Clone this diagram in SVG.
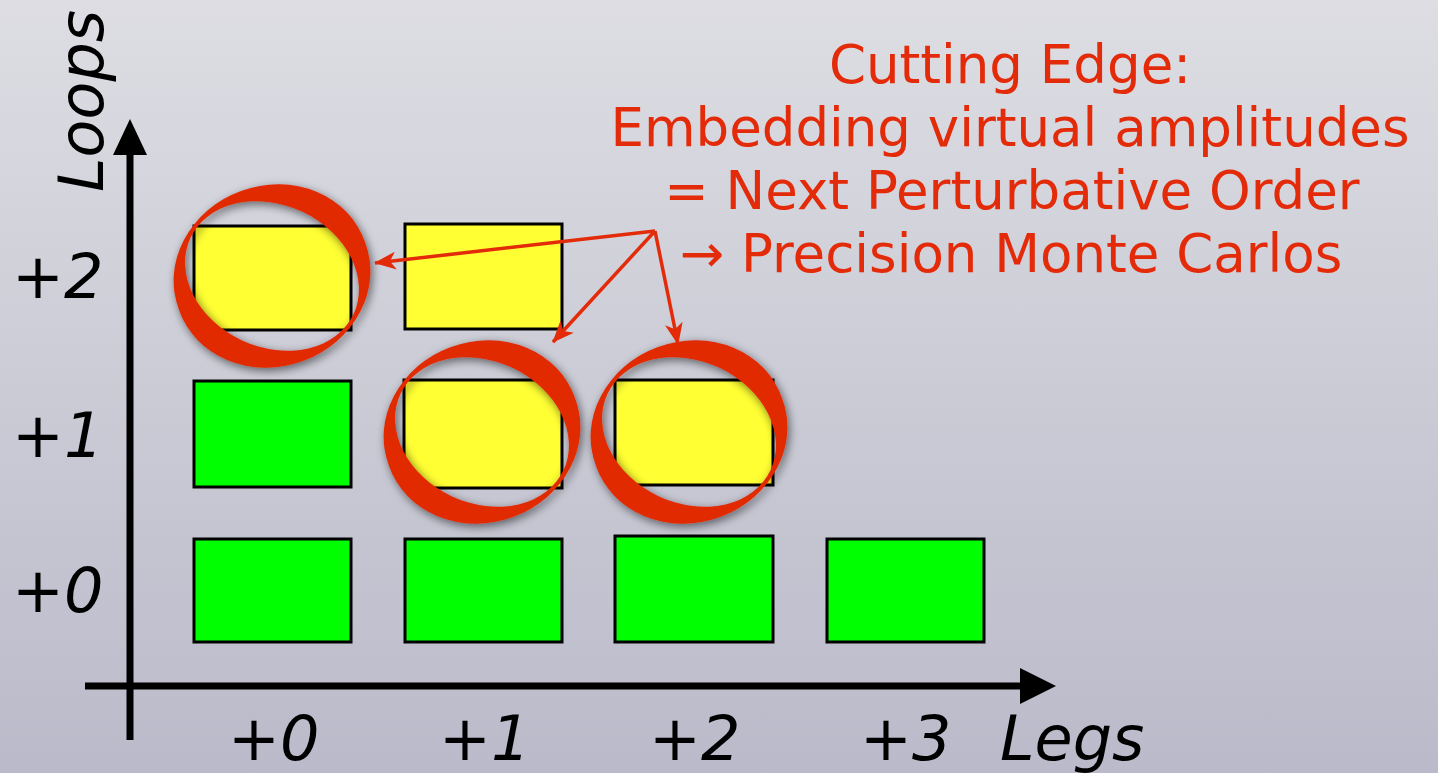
<svg xmlns="http://www.w3.org/2000/svg" xmlns:xlink="http://www.w3.org/1999/xlink" width="1438" height="773" viewBox="0 0 1438 773">
<defs>
<linearGradient id="bg" x1="0" y1="0" x2="0" y2="1">
<stop offset="0" stop-color="#dddde3"/>
<stop offset="1" stop-color="#babaca"/>
</linearGradient>
<filter id="sh" x="-30%" y="-30%" width="160%" height="160%">
<feGaussianBlur in="SourceAlpha" stdDeviation="5"/>
<feOffset dx="2" dy="3"/>
<feComponentTransfer><feFuncA type="linear" slope="0.55"/></feComponentTransfer>
<feMerge><feMergeNode/><feMergeNode in="SourceGraphic"/></feMerge>
</filter>
<path id="ring" fill-rule="evenodd" d="M 93 -33.9 A 99 89 -20 1 0 -93 33.9 A 99 89 -20 1 0 93 -33.9 Z M 81.6 38 A 90 71 25 1 0 -81.6 -38 A 90 71 25 1 0 81.6 38 Z"/>
<marker id="ah" viewBox="0 0 22 18" refX="21" refY="9" markerWidth="22" markerHeight="18" markerUnits="userSpaceOnUse" orient="auto">
<path d="M0 0 L22 9 L0 18 L6 9 Z" fill="#e32b0a"/>
</marker>
<style>
.lbl{font-family:"DejaVu Sans","Verdana",sans-serif;font-style:italic;font-size:62px;fill:#000}
.red{font-family:"DejaVu Sans","Verdana",sans-serif;font-size:53px;fill:#e32b0a;text-anchor:middle}
.g{fill:#00ff00;stroke:#000;stroke-width:3}
.y{fill:#ffff33;stroke:#000;stroke-width:3}
.ring{fill:#e22a00;filter:url(#sh)}
.axis{stroke:#000;stroke-width:7;fill:none}
.conn{stroke:#e32b0a;stroke-width:3.5;fill:none;marker-end:url(#ah)}
</style>
</defs>
<rect x="0" y="0" width="1438" height="773" fill="url(#bg)"/>

<g id="axes">
<line class="axis" x1="130" y1="740" x2="130" y2="150"/>
<polygon points="130,119 113,155 147,155" fill="#000"/>
<line class="axis" x1="85" y1="686" x2="1025" y2="686"/>
<polygon points="1056,686 1020,668 1020,704" fill="#000"/>
</g>

<g id="axis-labels">
<text class="lbl" transform="translate(103,192) rotate(-90)" x="0" y="0">Loops</text>
<text class="lbl" x="12" y="298">+2</text>
<text class="lbl" x="12" y="457">+1</text>
<text class="lbl" x="12" y="612">+0</text>
<text class="lbl" x="228" y="760">+0</text>
<text class="lbl" x="439" y="760">+1</text>
<text class="lbl" x="649" y="760">+2</text>
<text class="lbl" x="860" y="760">+3</text>
<text class="lbl" x="1000" y="760">Legs</text>
</g>

<g id="box-l0-g0"><rect class="g" x="194" y="539" width="157" height="103"/></g>
<g id="box-l0-g1"><rect class="g" x="405" y="539" width="157" height="103"/></g>
<g id="box-l0-g2"><rect class="g" x="615" y="536" width="158" height="106"/></g>
<g id="box-l0-g3"><rect class="g" x="827" y="539" width="157" height="103"/></g>
<g id="box-l1-g0"><rect class="g" x="194" y="381" width="157" height="106"/></g>
<g id="box-l1-g1"><rect class="y" x="404" y="380" width="158" height="108"/></g>
<g id="box-l1-g2"><rect class="y" x="615" y="380" width="158" height="105"/></g>
<g id="box-l2-g0"><rect class="y" x="194" y="226" width="157" height="104"/></g>
<g id="box-l2-g1"><rect class="y" x="405" y="224" width="157" height="105"/></g>

<g id="ring-1"><use xlink:href="#ring" class="ring" transform="translate(272,276)"/></g>
<g id="ring-2"><use xlink:href="#ring" class="ring" transform="translate(482,432)"/></g>
<g id="ring-3"><use xlink:href="#ring" class="ring" transform="translate(689,432)"/></g>

<g id="connectors">
<line class="conn" x1="655" y1="231" x2="375" y2="263"/>
<line class="conn" x1="655" y1="231" x2="553" y2="342"/>
<line class="conn" x1="655" y1="231" x2="678" y2="344"/>
</g>

<g id="callout">
<text class="red" x="1010" y="83">Cutting Edge:</text>
<text class="red" x="1010" y="146">Embedding virtual amplitudes</text>
<text class="red" x="1012" y="209">= Next Perturbative Order</text>
<text class="red" x="1011" y="272">→ Precision Monte Carlos</text>
</g>
</svg>
